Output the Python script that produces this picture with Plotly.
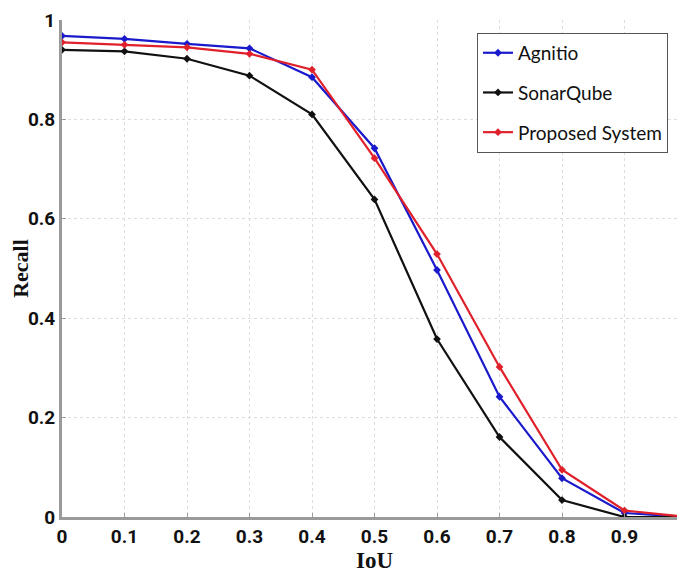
import plotly.graph_objects as go

iou = [0, 0.1, 0.2, 0.3, 0.4, 0.5, 0.6, 0.7, 0.8, 0.9, 1.0]
agnitio = [0.968, 0.962, 0.952, 0.943, 0.885, 0.742, 0.497, 0.242, 0.078, 0.008, 0.0]
sonarqube = [0.940, 0.937, 0.922, 0.888, 0.810, 0.639, 0.358, 0.161, 0.034, 0.0, 0.0]
proposed = [0.955, 0.950, 0.945, 0.932, 0.900, 0.722, 0.529, 0.302, 0.095, 0.013, 0.0]

series = [
    ("Agnitio", agnitio, "#1a1acc"),
    ("SonarQube", sonarqube, "#111111"),
    ("Proposed System", proposed, "#e0202a"),
]

fig = go.Figure()
for i, (name, vals, col) in enumerate(series):
    fig.add_trace(go.Scatter(
        x=iou, y=vals, name=name, mode="lines+markers",
        line=dict(color=col, width=2.2),
        marker=dict(symbol="diamond", size=6, color=col),
        legendgroup=f"g{i}",
    ))

tickfont = dict(family="Roboto, sans-serif", size=19, color="#111111", weight="bold")
titlefont = dict(family="Liberation Serif, Times New Roman, serif", size=23, color="#111111", weight="bold")

fig.update_layout(
    width=685, height=578,
    margin=dict(l=54, r=6, t=12, b=69, autoexpand=False),
    paper_bgcolor="white", plot_bgcolor="white",
    showlegend=True,
    legend=dict(
        x=0.664, y=0.974, xanchor="left", yanchor="top",
        bgcolor="white", bordercolor="#555555", borderwidth=1,
        font=dict(family="Lato, Open Sans, sans-serif", size=19, color="#111111"),
        traceorder="grouped", tracegroupgap=12,
        itemwidth=30,
    ),
    xaxis=dict(
        range=[0, 1], tickvals=[0, 0.1, 0.2, 0.3, 0.4, 0.5, 0.6, 0.7, 0.8, 0.9, 1.0],
        ticktext=["0", "0.1", "0.2", "0.3", "0.4", "0.5", "0.6", "0.7", "0.8", "0.9", "1"],
        showgrid=True, gridcolor="#dddddd", griddash="dot", gridwidth=1,
        showline=True, linecolor="#9a9a9a", linewidth=3,
        zeroline=False, ticks="inside", ticklen=4, tickcolor="#9a9a9a",
        tickfont=tickfont, automargin=False,
        title=dict(text="IoU", font=titlefont, standoff=0),
    ),
    yaxis=dict(
        range=[0, 1], tickvals=[0, 0.2, 0.4, 0.6, 0.8, 1.0],
        ticktext=["0", "0.2", "0.4", "0.6", "0.8", "1"],
        showgrid=True, gridcolor="#dddddd", griddash="dot", gridwidth=1,
        showline=True, linecolor="#9a9a9a", linewidth=3,
        zeroline=False, ticks="inside", ticklen=4, tickcolor="#9a9a9a",
        tickfont=tickfont, automargin=False,
        title=dict(text="Recall", font=dict(titlefont, size=22), standoff=2),
    ),
)

fig.write_html("out.html")
